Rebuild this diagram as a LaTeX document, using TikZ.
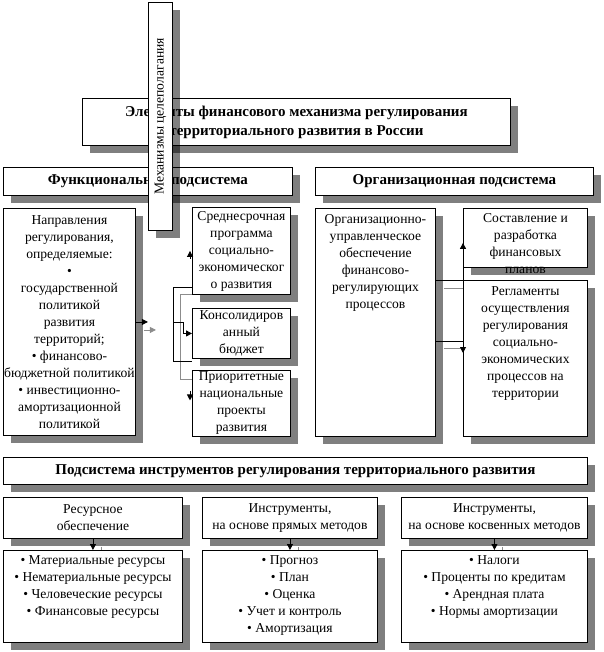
\documentclass[tikz,border=0pt]{standalone}
\usepackage{fontspec}
\setmainfont{Liberation Serif}
\usetikzlibrary{positioning,arrows.meta,shadows,calc}
\tikzset{
  panel/.style={draw, line width=0.9pt, fill=white, inner sep=0pt, anchor=north west,
    align=center, font=\fontsize{13.6}{17}\selectfont,
    drop shadow={shadow xshift=8pt, shadow yshift=-8pt, fill=black, opacity=.5}},
  headpanel/.style={panel, font=\fontsize{15}{19}\selectfont\bfseries},
  lbl/.style={align=center, inner sep=0pt, font=\fontsize{13.6}{17}\selectfont},
  wire/.style={line width=0.9pt},
  arr/.style={wire, -{Triangle[length=6pt,width=6pt]}},
  ghost/.style={wire, black!45},
  ghostarr/.style={ghost, -{Triangle[length=6pt,width=6pt]}},
}
\begin{document}
\begin{tikzpicture}[x=1pt, y=-1pt]
\useasboundingbox (0,0) rectangle (603,652);
% top level
\node[headpanel, minimum width=428, minimum height=47] (elem) at (82,98)
  {Элементы финансового механизма регулирования\\территориального развития в России};
\node[headpanel, minimum width=289, minimum height=28] (func) at (3,167) {Функциональная подсистема};
\node[headpanel, minimum width=278, minimum height=28] (org) at (315,167) {Организационная подсистема};
\node[panel, minimum width=24, minimum height=228] (goal) at (148,2) {};
\node[lbl, rotate=90] at (goal.center) {Механизмы целеполагания};
% functional subsystem
\node[panel, minimum width=132, minimum height=227] (dir) at (3,208)
  {Направления\\регулирования,\\определяемые:\\•\\государственной\\политикой\\развития\\территорий;\\• финансово-\\бюджетной политикой\\• инвестиционно-\\амортизационной\\политикой};
\node[panel, minimum width=98, minimum height=87] (prog) at (192,207)
  {Среднесрочная\\программа\\социально-\\экономическог\\о развития};
\node[panel, minimum width=98, minimum height=50] (budg) at (192,308) {Консолидиров\\анный\\бюджет};
\node[panel, minimum width=98, minimum height=66] (proj) at (192,370) {Приоритетные\\национальные\\проекты\\развития};
% organizational subsystem
\node[panel, minimum width=120, minimum height=228] (mgmt) at (315,208) {};
\node[lbl, below=6pt of mgmt.north] {Организационно-\\управленческое\\обеспечение\\финансово-\\регулирующих\\процессов};
\node[panel, minimum width=124, minimum height=59] (plan) at (463,208) {};
\node[lbl, below=5pt of plan.north] {Составление и\\разработка\\финансовых\\планов};
\node[panel, minimum width=124, minimum height=156] (regl) at (463,280) {};
\node[lbl, below=6pt of regl.north] {Регламенты\\осуществления\\регулирования\\социально-\\экономических\\процессов на\\территории};
% instruments subsystem
\node[headpanel, minimum width=584, minimum height=27] (tools) at (3,457)
  {Подсистема инструментов регулирования территориального развития};
\node[panel, minimum width=179, minimum height=41] (resH) at (3,497) {Ресурсное\\обеспечение};
\node[panel, minimum width=175, minimum height=41] (dirH) at (202,497) {Инструменты,\\на основе прямых методов};
\node[panel, minimum width=186, minimum height=41] (indH) at (401,497) {Инструменты,\\на основе косвенных методов};
\node[panel, minimum width=179, minimum height=92] (resL) at (3,550) {};
\node[lbl, below=5pt of resL.north] {• Материальные ресурсы\\• Нематериальные ресурсы\\• Человеческие ресурсы\\• Финансовые ресурсы};
\node[panel, minimum width=175, minimum height=92] (dirL) at (202,550) {};
\node[lbl, below=5pt of dirL.north] {• Прогноз\\• План\\• Оценка\\• Учет и контроль\\• Амортизация};
\node[panel, minimum width=186, minimum height=92] (indL) at (401,550) {};
\node[lbl, below=5pt of indL.north] {• Налоги\\• Проценты по кредитам\\• Арендная плата\\• Нормы амортизации};
% connector shadows
\draw[ghostarr] ($(dir.east)+(8,8)$) -- ++(12,0);
\draw[ghost] (prog.south west) -| ($(proj.north west)+(-12,9)$) -- ($(proj.north west)+(0,9)$);
\draw[ghost] ($(mgmt.north east)+(8,80)$) -- ($(regl.north west)+(0,8)$);
\draw[ghost] ($(mgmt.north east)+(8,140)$) -- ($(regl.north west)+(0,68)$);
\foreach \h/\l in {resH/resL, dirH/dirL, indH/indL}
  \draw[ghost] ($(\h.south)+(8,8)$) -- ($(\l.north)+(8,0)$);
% connectors
\draw[arr] (dir.east) -- ++(12,0);
\draw[wire] ($(prog.south west)+(0,-7)$) -| ($(budg.south west)+(-19,3)$) -- ($(budg.south west)+(0,3)$);
\draw[arr] ($(budg.west)+(-19,-11)$) -| ($(budg.west)+(-9,0)$) -- (budg.west);
\draw[arr] ($(prog.west)+(-2,8)$) -- ($(prog.west)+(-2,0)$);
\draw[arr] ($(proj.west)+(-2,-12)$) -- ($(proj.west)+(-2,-3)$);
\draw[arr] ($(mgmt.north east)+(0,72)$) -| ($(plan.south west)+(0,-25)$);
\draw[arr] ($(mgmt.north east)+(0,133)$) -| ($(regl.north west)+(0,73)$);
\foreach \h/\l in {resH/resL, dirH/dirL, indH/indL}
  \draw[arr] (\h.south) -- (\l.north);
\end{tikzpicture}
\end{document}
